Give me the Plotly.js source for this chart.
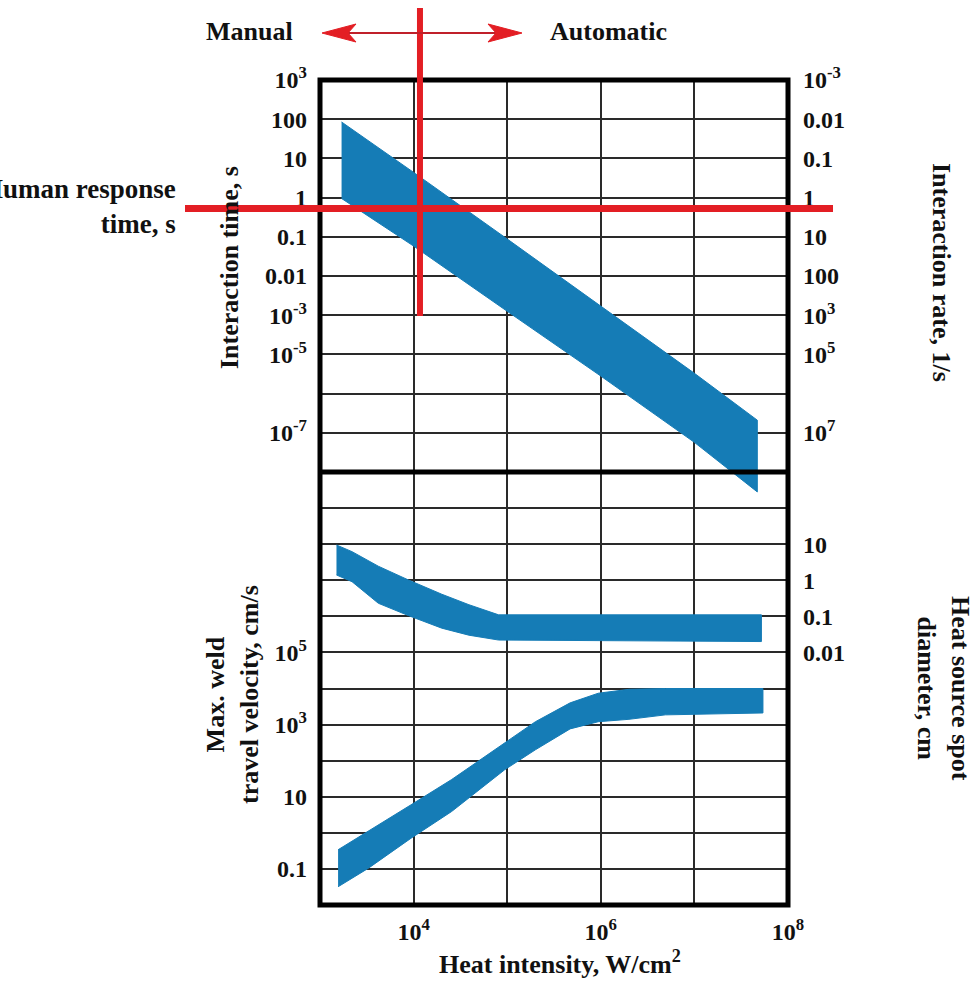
<!DOCTYPE html>
<html>
<head>
<meta charset="utf-8">
<script src="https://cdn.plot.ly/plotly-3.0.1.min.js"></script>
<style>html,body{margin:0;padding:0;background:#fff;}#chart{width:978px;height:982px;}</style>
</head>
<body>
<div id="chart"></div>
<script>
// ---------- DATA ----------
// Heat intensity axis ticks (W/cm^2)
const heatTickVals = [1e3, 1e4, 1e5, 1e6, 1e7, 1e8];
const heatTickText = ['', '10<sup>4</sup>', '', '10<sup>6</sup>', '', '10<sup>8</sup>'];

// Upper panel: interaction time band
const timeBandX     = [1.7e3, 1e4, 1e5, 1e6, 1e7, 4.7e7];
const timeBandUpper = [85, 4.4, 0.088, 1.7e-3, 3.3e-5, 2.1e-6];
const timeBandLower = [0.95, 0.058, 1.26e-3, 2.8e-5, 5.7e-7, 3.1e-8];

const timeTickVals = [1e3, 1e2, 1e1, 1, 1e-1, 1e-2, 1e-3, 1e-4, 1e-5, 1e-6];
const timeTickText = ['10<sup>3</sup>', '100', '10', '1', '0.1', '0.01', '10<sup>-3</sup>', '10<sup>-5</sup>', '', '10<sup>-7</sup>'];
const rateTickVals = [1e3, 1e2, 1e1, 1, 1e-1, 1e-2, 1e-3, 1e-4, 1e-6];
const rateTickText = ['10<sup>-3</sup>', '0.01', '0.1', '1', '10', '100', '10<sup>3</sup>', '10<sup>5</sup>', '10<sup>7</sup>'];

// Human response time and manual/automatic boundary
const humanResponseTime = 0.53;     // s
const manualAutoBoundary = 1.17e4;  // W/cm^2

// Lower panel: heat source spot diameter band (right axis, cm)
const spotBandX     = [1.5e3, 2.2e3, 4.2e3, 8.8e3, 2.0e4, 3.9e4, 8.1e4, 5.2e7];
const spotBandUpper = [9.5, 6.2, 2.45, 1.02, 0.41, 0.21, 0.11, 0.11];
const spotBandLower = [1.4, 0.91, 0.23, 0.105, 0.047, 0.030, 0.022, 0.020];
const spotTickVals = [10, 1, 0.1, 0.01];
const spotTickText = ['10', '1', '0.1', '0.01'];

// Lower panel: max weld travel velocity band (left axis, cm/s)
const velBandX     = [1.56e3, 3.3e3, 9.4e3, 2.55e4, 9.4e4, 2.0e5, 4.7e5, 9.4e5, 2.0e6, 4.9e6, 5.4e7];
const velBandUpper = [0.34, 1.1, 6.0, 30, 300, 1200, 4000, 7400, 9500, 1.0e4, 1.0e4];
const velBandLower = [0.032, 0.105, 0.71, 3.9, 56, 200, 760, 1200, 1400, 1860, 2100];
const velTickVals = [1e-2, 1e-1, 1, 1e1, 1e2, 1e3, 1e4, 1e5, 1e6, 1e7, 1e8, 1e9, 1e10];
const velTickText = ['', '0.1', '', '10', '', '10<sup>3</sup>', '', '10<sup>5</sup>', '', '', '', '', ''];

// ---------- LAYOUT HELPERS ----------
const W = 978, H = 982, L = 320, R = 190, T = 80, B = 77;
const PW = W - L - R, PH = H - T - B;
const px = p => (p - L) / PW;
const py = p => (H - B - p) / PH;
const FONT = 'Liberation Serif, "Times New Roman", serif';
const BLUE = '#157cb6';
const RED = '#e31e24';
const GRID = '#2a2a2a';

function band(xs, up, lo) {
  return {
    x: xs.concat(xs.slice().reverse()),
    y: up.concat(lo.slice().reverse())
  };
}
const tb = band(timeBandX, timeBandUpper, timeBandLower);
const sb = band(spotBandX, spotBandUpper, spotBandLower);
const vb = band(velBandX, velBandUpper, velBandLower);

const traces = [
  {x: tb.x, y: tb.y, xaxis: 'x', yaxis: 'y', type: 'scatter', mode: 'lines', fill: 'toself',
   fillcolor: BLUE, line: {color: BLUE, width: 1}, hoverinfo: 'skip', showlegend: false},
  {x: vb.x, y: vb.y, xaxis: 'x', yaxis: 'y2', type: 'scatter', mode: 'lines', fill: 'toself',
   fillcolor: BLUE, line: {color: BLUE, width: 1}, hoverinfo: 'skip', showlegend: false},
  {x: sb.x, y: sb.y, xaxis: 'x', yaxis: 'y4', type: 'scatter', mode: 'lines', fill: 'toself',
   fillcolor: BLUE, line: {color: BLUE, width: 1}, hoverinfo: 'skip', showlegend: false},
  {x: [], y: [], xaxis: 'x', yaxis: 'y3', type: 'scatter', mode: 'lines', hoverinfo: 'skip', showlegend: false}
];

const tickFont = {family: FONT, size: 24, color: '#111', weight: 'bold'};
const divider = py(472);
const topBottomPx = 500;
const topRange = [3 - 10 * (topBottomPx - 80) / (472 - 80), 3];

function label(xp, yp, text, opts) {
  return Object.assign({
    xref: 'paper', yref: 'paper', x: px(xp), y: py(yp), text: text, showarrow: false,
    xanchor: 'center', yanchor: 'middle',
    font: {family: FONT, size: 26, color: '#111', weight: 'bold'}
  }, opts || {});
}

const layout = {
  width: W, height: H,
  margin: {l: L, r: R, t: T, b: B, pad: 0},
  paper_bgcolor: '#fff', plot_bgcolor: 'rgba(0,0,0,0)',
  showlegend: false, hovermode: false,
  xaxis: {
    type: 'log', range: [3, 8], domain: [0, 1], anchor: 'y2',
    tickvals: heatTickVals, ticktext: heatTickText, tickfont: tickFont,
    showgrid: true, gridcolor: GRID, gridwidth: 2, zeroline: false, showline: false,
    ticks: '', ticklabelstandoff: 10
  },
  yaxis: {
    type: 'log', range: topRange, domain: [py(topBottomPx), 1], anchor: 'x',
    tickvals: timeTickVals, ticktext: timeTickText, tickfont: tickFont,
    showgrid: true, gridcolor: GRID, gridwidth: 2, zeroline: false, showline: false,
    ticks: '', ticklabelstandoff: 12
  },
  yaxis3: {
    type: 'log', range: topRange, overlaying: 'y', side: 'right', anchor: 'x',
    tickvals: rateTickVals, ticktext: rateTickText, tickfont: tickFont,
    showgrid: false, zeroline: false, showline: false, ticks: '', ticklabelstandoff: 14
  },
  yaxis2: {
    type: 'log', range: [-2, 10], domain: [0, divider], anchor: 'x',
    tickvals: velTickVals, ticktext: velTickText, tickfont: tickFont,
    showgrid: true, gridcolor: GRID, gridwidth: 2, zeroline: false, showline: false,
    ticks: '', ticklabelstandoff: 12
  },
  yaxis4: {
    type: 'log', range: [-9, 3], overlaying: 'y2', side: 'right', anchor: 'x',
    tickvals: spotTickVals, ticktext: spotTickText, tickfont: tickFont,
    showgrid: false, zeroline: false, showline: false, ticks: '', ticklabelstandoff: 14
  },
  shapes: [
    // frame and divider
    {type: 'rect', xref: 'paper', yref: 'paper', x0: 0, x1: 1, y0: 0, y1: 1,
     line: {color: '#000', width: 5}, layer: 'above'},
    {type: 'line', xref: 'paper', yref: 'paper', x0: 0, x1: 1, y0: divider, y1: divider,
     line: {color: '#000', width: 5}, layer: 'above'},
    // human response time line
    {type: 'line', xref: 'paper', yref: 'y', x0: px(185), x1: px(833),
     y0: humanResponseTime, y1: humanResponseTime, line: {color: RED, width: 7}, layer: 'above'},
    // manual / automatic boundary
    {type: 'line', xref: 'x', yref: 'paper', x0: manualAutoBoundary, x1: manualAutoBoundary,
     y0: py(316), y1: py(8), line: {color: RED, width: 6}, layer: 'above'},
    // arrow shaft
    {type: 'line', xref: 'paper', yref: 'paper', x0: px(345), x1: px(500), y0: py(33), y1: py(33),
     line: {color: '#c0202a', width: 2}, layer: 'above'},
    // arrow heads
    {type: 'path', xref: 'paper', yref: 'paper', layer: 'above',
     path: `M ${px(322)} ${py(33)} L ${px(356)} ${py(24)} L ${px(348)} ${py(33)} L ${px(356)} ${py(42)} Z`,
     fillcolor: RED, line: {color: RED, width: 1}},
    {type: 'path', xref: 'paper', yref: 'paper', layer: 'above',
     path: `M ${px(522)} ${py(33)} L ${px(488)} ${py(24)} L ${px(496)} ${py(33)} L ${px(488)} ${py(42)} Z`,
     fillcolor: RED, line: {color: RED, width: 1}}
  ],
  annotations: [
    label(249, 31, 'Manual'),
    label(608, 31, 'Automatic'),
    label(178, 206, 'Human response<br>time, s', {xanchor: 'right', align: 'right',
      font: {family: FONT, size: 27, color: '#111', weight: 'bold'}}),
    label(229, 268, 'Interaction time, s', {textangle: -90}),
    label(942, 272, 'Interaction rate, 1/s', {textangle: 90}),
    label(232, 695, 'Max. weld<br>travel velocity, cm/s', {textangle: -90}),
    label(944, 688, 'Heat source spot<br>diameter, cm', {textangle: 90}),
    label(560, 962, 'Heat intensity, W/cm<sup>2</sup>')
  ]
};

Plotly.newPlot('chart', traces, layout, {displayModeBar: false, staticPlot: true});
</script>
</body>
</html>
